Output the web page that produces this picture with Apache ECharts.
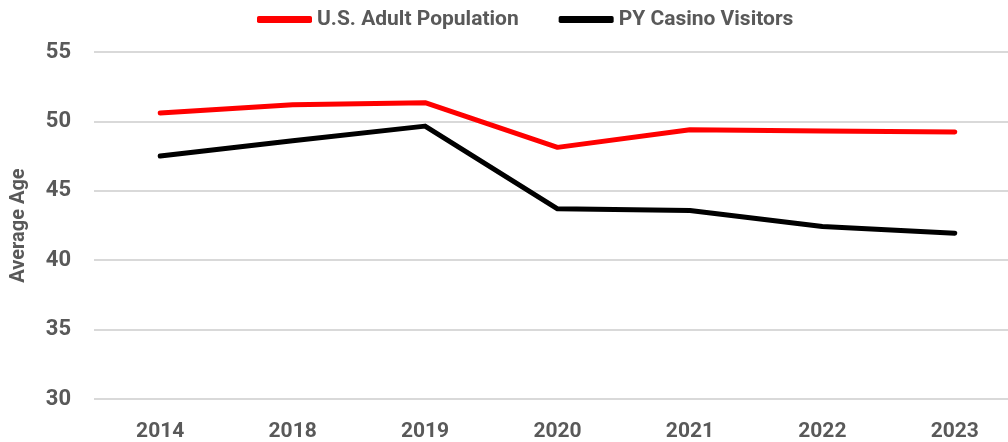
<!DOCTYPE html>
<html>
<head>
<meta charset="utf-8">
<script src="https://cdn.jsdelivr.net/npm/echarts@6/dist/echarts.min.js"></script>
<style>
  html, body { margin: 0; padding: 0; background: #fff; }
  #chart { width: 1008px; height: 442px; }
</style>
</head>
<body>
<div id="chart"></div>
<script>
// data
const years = ['2014', '2018', '2019', '2020', '2021', '2022', '2023'];
const usAdult = [50.6, 51.2, 51.35, 48.13, 49.4, 49.3, 49.23];
const pyVisitors = [47.5, 48.6, 49.66, 43.7, 43.58, 42.43, 41.95];

const grey = '#595959';

const chart = echarts.init(document.getElementById('chart'), null, { renderer: 'canvas' });

chart.setOption({
  animation: false,
  backgroundColor: '#fff',
  legend: {
    top: 4,
    left: 252,
    icon: 'roundRect',
    itemWidth: 55,
    itemHeight: 7,
    itemGap: 40,
    textStyle: { color: grey, fontSize: 21, fontWeight: 'bold', fontFamily: 'Roboto' },
    data: ['U.S. Adult Population', 'PY Casino Visitors']
  },
  grid: { left: 94, top: 52, width: 927, height: 347, outerBoundsMode: 'none', containLabel: false },
  xAxis: {
    type: 'category',
    data: years,
    boundaryGap: true,
    axisLine: { show: false },
    axisTick: { show: false },
    axisLabel: { color: grey, fontSize: 21, fontWeight: 'bold', fontFamily: 'Roboto', margin: 22 }
  },
  yAxis: {
    type: 'value',
    min: 30,
    max: 55,
    interval: 5,
    name: 'Average Age',
    nameLocation: 'middle',
    nameGap: 65,
    nameTextStyle: { color: grey, fontSize: 20, fontWeight: 'bold', fontFamily: 'Roboto' },
    axisLine: { show: false },
    axisTick: { show: false },
    splitLine: { lineStyle: { color: '#d9d9d9', width: 2 } },
    axisLabel: { color: grey, fontSize: 22, fontWeight: 'bold', fontFamily: 'Roboto', margin: 23 }
  },
  series: [
    {
      name: 'U.S. Adult Population',
      type: 'line',
      data: usAdult,
      symbol: 'none',
      color: '#ff0000',
      lineStyle: { color: '#ff0000', width: 5, cap: 'round', join: 'round' }
    },
    {
      name: 'PY Casino Visitors',
      type: 'line',
      data: pyVisitors,
      symbol: 'none',
      color: '#000000',
      lineStyle: { color: '#000000', width: 5, cap: 'round', join: 'round' }
    }
  ]
});
</script>
</body>
</html>
